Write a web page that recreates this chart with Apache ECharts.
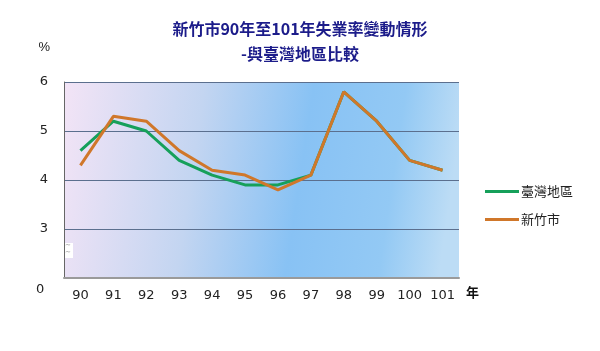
<!DOCTYPE html>
<html>
<head>
<meta charset="utf-8">
<script src="https://cdn.jsdelivr.net/npm/echarts@6/dist/echarts.min.js"></script>
<style>
  html, body { margin: 0; padding: 0; background: #fff; }
  #chart { width: 600px; height: 351px; }
</style>
</head>
<body>
<div id="chart"></div>
<script>
// 年度 (民國)
var years = ['90', '91', '92', '93', '94', '95', '96', '97', '98', '99', '100', '101']
// 失業率 %
var taiwan = [4.6, 5.2, 5.0, 4.4, 4.1, 3.9, 3.9, 4.1, 5.8, 5.2, 4.4, 4.2]
var hsinchu = [4.3, 5.3, 5.2, 4.6, 4.2, 4.1, 3.8, 4.1, 5.8, 5.2, 4.4, 4.2]
var seriesNames = ['臺灣地區', '新竹市']

var myChart = echarts.init(document.getElementById('chart'))

var option = {
  animation: false,
  title: {
    text: '新竹市90年至101年失業率變動情形\n-與臺灣地區比較',
    left: 'center',
    top: 11,
    textStyle: {
      color: '#1c1c8a',
      fontSize: 16,
      fontWeight: 'bold',
      fontFamily: 'Noto Sans CJK TC',
      lineHeight: 25,
    },
  },
  legend: {
    orient: 'vertical',
    left: 480,
    top: 180,
    itemWidth: 34,
    itemHeight: 3,
    itemGap: 15,
    icon: 'rect',
    textStyle: {
      color: '#222',
      fontSize: 13,
      fontFamily: 'Noto Sans CJK TC',
      padding: [0, 0, 0, -3],
    },
    data: seriesNames,
  },
  grid: {
    left: 64,
    right: 141,
    top: 82,
    bottom: 73,
    show: true,
    borderWidth: 0,
    backgroundColor: {
      type: 'linear',
      x: 0, y: 0, x2: 1, y2: 0.3,
      colorStops: [
        { offset: 0, color: '#f3e4f6' },
        { offset: 0.35, color: '#c3d5f1' },
        { offset: 0.62, color: '#88c2f4' },
        { offset: 0.85, color: '#93c9f4' },
        { offset: 1, color: '#bcdcf5' },
      ],
    },
  },
  xAxis: {
    type: 'category',
    data: years,
    boundaryGap: true,
    name: '年',
    nameLocation: 'end',
    nameGap: 7,
    nameTextStyle: {
      color: '#111',
      fontSize: 13,
      fontWeight: 'bold',
      fontFamily: 'Noto Sans CJK TC',
      verticalAlign: 'top',
      padding: [8, 0, 0, 0],
    },
    axisLine: { lineStyle: { color: '#9a9a9a', width: 2 } },
    axisTick: { show: false },
    axisLabel: {
      color: '#222',
      fontSize: 13,
      fontFamily: 'DejaVu Sans',
      margin: 11,
    },
  },
  yAxis: {
    type: 'value',
    min: 2,
    max: 6,
    interval: 1,
    name: '%',
    nameLocation: 'end',
    nameGap: 28,
    nameTextStyle: {
      color: '#222',
      fontSize: 13,
      align: 'right',
      padding: [0, 14, 0, 0],
    },
    axisLine: { show: true, lineStyle: { color: '#666', width: 1 } },
    axisTick: { show: false },
    axisLabel: {
      color: '#222',
      fontSize: 13,
      fontFamily: 'DejaVu Sans',
      margin: 16,
      formatter: function (v) {
        return v === 2 ? '' : String(v)
      },
    },
    splitLine: {
      show: true,
      lineStyle: { color: '#5b6f8e', width: 1 },
    },
  },
  graphic: [
    // 斷軸處的 0 標籤與斷裂符號
    {
      type: 'text',
      left: 36,
      top: 283,
      style: { text: '0', fill: '#222', font: '13px DejaVu Sans' },
    },
    {
      type: 'rect',
      shape: { x: 64, y: 243, width: 9, height: 15 },
      style: { fill: '#fff' },
    },
    {
      type: 'text',
      left: 65,
      top: 242,
      style: { text: '~\n~', fill: '#888', font: '7px DejaVu Sans', lineHeight: 7 },
    },
  ],
  series: [
    {
      name: seriesNames[0],
      type: 'line',
      data: taiwan,
      symbol: 'none',
      lineStyle: { color: '#16a05a', width: 3 },
      itemStyle: { color: '#16a05a' },
      z: 2,
    },
    {
      name: seriesNames[1],
      type: 'line',
      data: hsinchu,
      symbol: 'none',
      lineStyle: { color: '#d0772a', width: 3 },
      itemStyle: { color: '#d0772a' },
      z: 3,
    },
  ],
}

myChart.setOption(option)
</script>
</body>
</html>
